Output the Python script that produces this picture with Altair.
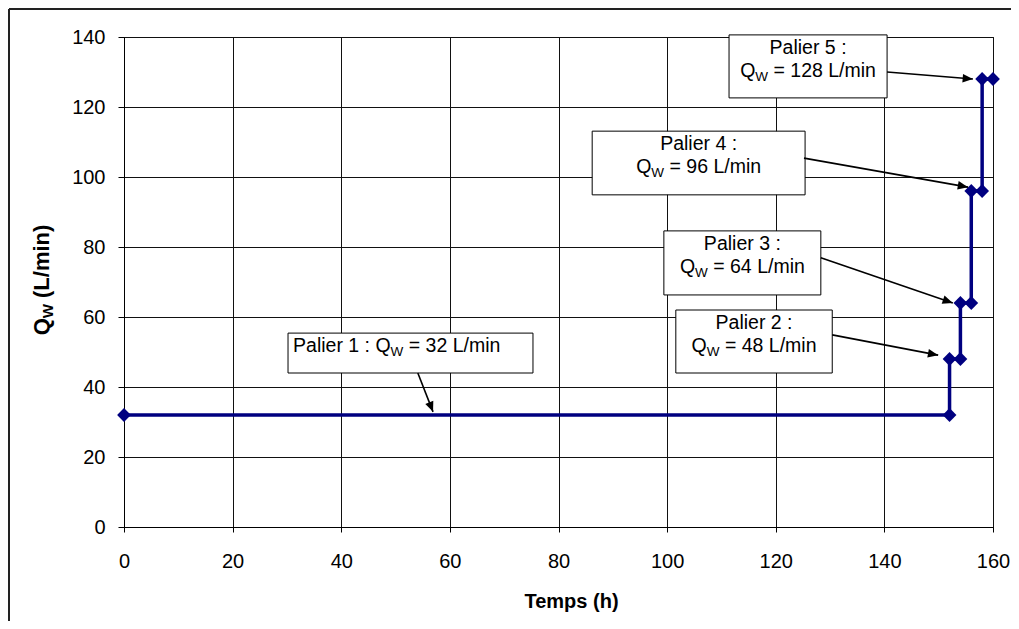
import math
import altair as alt
import pandas as pd

# ---- data ----
time_h = [0, 152, 152, 154, 154, 156, 156, 158, 158, 160]
flow_lpm = [32, 32, 48, 48, 64, 64, 96, 96, 128, 128]
x_ticks = [0, 20, 40, 60, 80, 100, 120, 140, 160]
y_ticks = [0, 20, 40, 60, 80, 100, 120, 140]

palier_labels = ["Palier 1 :", "Palier 2 :", "Palier 3 :", "Palier 4 :", "Palier 5 :"]
palier_flow = [32, 48, 64, 96, 128]

# annotation boxes (data units)
box_left = [30.2, 101.6, 99.4, 86.2, 111.4]
box_right = [75.3, 130.4, 128.3, 125.4, 140.5]
box_bottom = [44.0, 44.0, 66.3, 94.9, 122.6]
box_top = [55.4, 62.0, 84.6, 113.1, 140.6]
# arrows (data units)
arrow_x1 = [54.1, 130.4, 128.3, 125.2, 140.5]
arrow_y1 = [44.0, 54.9, 76.9, 105.4, 130.0]
arrow_x2 = [56.9, 149.9, 152.6, 155.4, 156.3]
arrow_y2 = [32.9, 49.1, 64.0, 97.1, 128.0]

# ---- layout ----
W, H = 869, 490
PX = W / 160.0
PY = H / 140.0
FONT = "Liberation Sans, Arial, sans-serif"
NAVY = "#000080"

REG = {" ": 278, "=": 584, "L": 556, "/": 278, "m": 833, "i": 222,
       "n": 556, "P": 667, "a": 556, "l": 222, "e": 556, "r": 333, ":": 278,
       "Q": 778, "W": 944}
BOLD = {" ": 278, "(": 333, ")": 333, "L": 611, "/": 278, "m": 889,
        "i": 278, "n": 611, "Q": 778, "W": 944}


def tw(s, size, table=REG):
    return sum(table.get(c, 556) for c in s) * size / 1000.0


FS, FSUB = 19.5, 13.5
SP = tw(" ", FS)
rows = []
for k in range(5):
    cx = (box_left[k] + box_right[k]) / 2
    rest = f"= {palier_flow[k]} L/min"
    if k == 0:
        base = box_top[k] - 19 / PY
        x0 = box_left[k] + 5 / PX
        first = palier_labels[k]
        rows.append(dict(x=x0, y=base, t=first, fs=FS))
        xq = x0 + (tw(first, FS) + SP) / PX
    else:
        b1 = box_top[k] - 19 / PY
        base = box_top[k] - 42 / PY
        lab = palier_labels[k]
        w1 = tw(lab, FS)
        rows.append(dict(x=cx - w1 / 2 / PX, y=b1, t=lab, fs=FS))
        total = tw("Q", FS) + tw("W", FSUB) + SP + tw(rest, FS)
        xq = cx - total / 2 / PX
    rows.append(dict(x=xq, y=base, t="Q", fs=FS))
    xw = xq + tw("Q", FS) / PX
    rows.append(dict(x=xw, y=base - 4 / PY, t="W", fs=FSUB))
    xr = xw + (tw("W", FSUB) + SP) / PX
    rows.append(dict(x=xr, y=base, t=rest, fs=FS))
text_df = pd.DataFrame(rows)

line_df = pd.DataFrame({"t": time_h, "q": flow_lpm, "i": range(len(time_h))})
box_df = pd.DataFrame({"x1": box_left, "x2": box_right, "y1": box_bottom, "y2": box_top})
angles = []
for a, b, c, d in zip(arrow_x1, arrow_y1, arrow_x2, arrow_y2):
    dxp = (c - a) * PX
    dyp = -(d - b) * PY
    angles.append(math.degrees(math.atan2(dxp, -dyp)) % 360)
arrow_df = pd.DataFrame({"x1": arrow_x1, "y1": arrow_y1, "x2": arrow_x2,
                         "y2": arrow_y2, "ang": angles})
one = pd.DataFrame({"a": [0]})

xs = alt.Scale(domain=[0, 160], nice=False, zero=False)
ys = alt.Scale(domain=[0, 140], nice=False, zero=False)

x_axis = alt.Axis(values=x_ticks, grid=True, gridColor="#111", gridWidth=1,
                  domainColor="#000", tickColor="#000", tickSize=5,
                  labelFontSize=20, labelColor="#000", labelFont=FONT,
                  labelPadding=19, labelFlush=False,
                  title="Temps (h)", titleFontSize=20, titleFontWeight="bold",
                  titleFont=FONT, titleColor="#000", titleX=447, titleY=80,
                  titleBaseline="alphabetic")
y_axis = alt.Axis(values=y_ticks, grid=True, gridColor="#111", gridWidth=1,
                  domainColor="#000", tickColor="#000", tickSize=6,
                  labelFontSize=20, labelColor="#000", labelFont=FONT,
                  labelPadding=13, title=None)

line = alt.Chart(line_df).mark_line(color=NAVY, strokeWidth=3.5).encode(
    x=alt.X("t:Q", scale=xs, axis=x_axis),
    y=alt.Y("q:Q", scale=ys, axis=y_axis),
    order="i:Q",
)
pts = alt.Chart(line_df).mark_point(shape="diamond", filled=True, size=190,
                                    color=NAVY, opacity=1).encode(
    x=alt.X("t:Q", scale=xs), y=alt.Y("q:Q", scale=ys))

boxes = alt.Chart(box_df).mark_rect(fill="white", stroke="#000", strokeWidth=1).encode(
    x=alt.X("x1:Q", scale=xs), x2="x2:Q",
    y=alt.Y("y1:Q", scale=ys), y2="y2:Q")

arrows = alt.Chart(arrow_df).mark_rule(color="#000", strokeWidth=1.6).encode(
    x=alt.X("x1:Q", scale=xs), x2="x2:Q",
    y=alt.Y("y1:Q", scale=ys), y2="y2:Q")
heads = alt.Chart(arrow_df).mark_point(shape="M0,0L0.42,1L-0.42,1Z", filled=True,
                                       size=420, color="#000", opacity=1).encode(
    x=alt.X("x2:Q", scale=xs), y=alt.Y("y2:Q", scale=ys),
    angle=alt.Angle("ang:Q", scale=None))

texts = alt.Chart(text_df).mark_text(align="left", baseline="alphabetic",
                                     font=FONT, color="#000").encode(
    x=alt.X("x:Q", scale=xs), y=alt.Y("y:Q", scale=ys),
    text="t:N", size=alt.Size("fs:Q", scale=None, legend=None))

# rotated y-axis title Q_W (L/min)
TS, TSUB = 22, 15
rest_t = "(L/min)"
SPB = tw(" ", TS, BOLD)
t_total = tw("Q", TS, BOLD) + tw("W", TSUB, BOLD) + SPB + tw(rest_t, TS, BOLD)
y0 = 243 + t_total / 2
bx = -75
yq = alt.Chart(one).mark_text(angle=270, align="left", baseline="alphabetic",
                              font=FONT, fontSize=TS, fontWeight="bold",
                              color="#000", text="Q").encode(
    x=alt.value(bx), y=alt.value(y0))
yw = alt.Chart(one).mark_text(angle=270, align="left", baseline="alphabetic",
                              font=FONT, fontSize=TSUB, fontWeight="bold",
                              color="#000", text="W").encode(
    x=alt.value(bx + 4), y=alt.value(y0 - tw("Q", TS, BOLD)))
yr = alt.Chart(one).mark_text(angle=270, align="left", baseline="alphabetic",
                              font=FONT, fontSize=TS, fontWeight="bold",
                              color="#000", text=rest_t).encode(
    x=alt.value(bx),
    y=alt.value(y0 - tw("Q", TS, BOLD) - tw("W", TSUB, BOLD) - SPB))

# outer chart-area frame (left and top edges)
frame_l = alt.Chart(one).mark_rule(color="#222", strokeWidth=2).encode(
    x=alt.value(-115), y=alt.value(-28), y2=alt.value(H + 94))
frame_t = alt.Chart(one).mark_rule(color="#222", strokeWidth=2).encode(
    x=alt.value(-115), x2=alt.value(W + 18), y=alt.value(-28))

chart = alt.layer(line, pts, boxes, arrows, heads, texts, yq, yw, yr,
                  frame_l, frame_t).properties(
    width=W, height=H,
    autosize=alt.AutoSizeParams(type="none"),
    padding={"left": 116, "top": 29, "right": 18, "bottom": 94},
    background="white",
).configure_view(stroke="#000", strokeWidth=1)

chart.save("out.html", embed_options={"renderer": "svg", "actions": False})
